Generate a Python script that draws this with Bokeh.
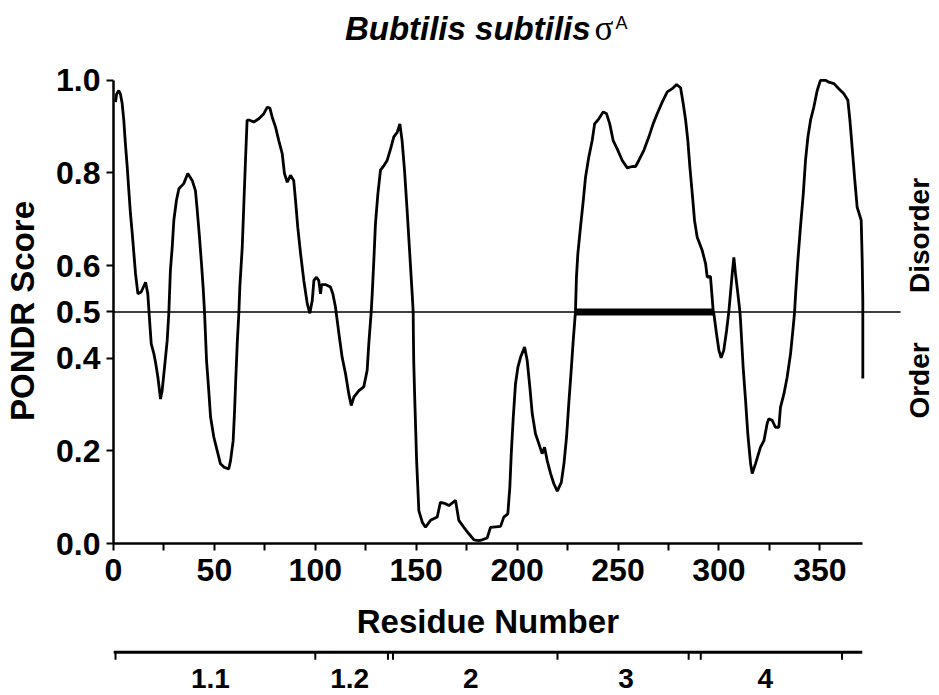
import math
from bokeh.plotting import figure
from bokeh.models import Range1d, FixedTicker
from bokeh.layouts import column
from bokeh.embed import file_html
from bokeh.resources import INLINE
from bokeh.core.properties import value

# ---- data ----
residue = [1, 1.5, 2.6, 3.4, 4.3, 5.1, 5.9, 6.8, 7.6, 8.4, 9.3, 10.1, 10.9, 12.1, 13.7, 15.9, 17.0,
           17.6, 18.0, 18.7, 20.0, 20.8, 22.0, 23.3, 24.1, 25.3, 26.6, 27.4, 28.2, 29.1, 29.9, 31.2,
           32.4, 34.8, 36.8, 39.0, 40.6, 41.5, 42.6, 43.6, 44.4, 45.1, 46.1, 47.2, 48.1, 49.7, 51.4,
           53.0, 54.7, 57.1, 58.0, 59.3, 60.0, 60.5, 61.3, 62.1, 62.6, 63.8, 64.6, 65.4, 66.2, 67.5,
           69.5, 72.0, 74.5, 76.2, 77.5, 78.6, 80.3, 81.9, 83.6, 84.7, 86.1, 87.7, 89.3, 90.2, 91.3,
           92.7, 94.3, 96.0, 97.3, 98.5, 99.3, 100.6, 101.7, 102.6, 103.1, 105.0, 107.5, 108.7, 110.0,
           111.7, 113.3, 115.0, 116.6, 117.8, 119.1, 121.6, 124.0, 125.7, 126.5, 127.7, 128.2, 129.0,
           129.8, 131.0, 132.3, 134.0, 135.6, 137.3, 138.9, 140.6, 141.9, 143.0, 144.2, 145.5, 146.8,
           148.0, 148.5, 148.6, 148.8, 149.3, 150.2, 151.3, 153.0, 154.6, 157.1, 160.4, 162.0, 164.5,
           166.2, 169.5, 171.1, 173.6, 176.1, 178.6, 181.0, 182.7, 185.2, 186.8, 191.8, 193.4, 195.4,
           196.4, 197.1, 198.1, 199.2, 200.4, 201.7, 203.7, 205.0, 206.3, 207.5, 209.1, 210.8, 212.4,
           213.6, 214.9, 216.6, 218.2, 219.9, 221.9, 223.2, 224.5, 225.6, 226.8, 227.8, 228.9, 229.4,
           230.1, 231.4, 232.8, 233.9, 235.5, 237.2, 238.4, 240.5, 242.7, 244.3, 245.9, 247.6, 249.6,
           252.1, 254.6, 257.0, 258.7, 260.3, 262.8, 265.3, 267.4, 269.4, 271.9, 274.4, 276.9, 279.0,
           281.0, 282.3, 283.5, 284.6, 285.6, 286.8, 287.9, 289.2, 291.7, 293.4, 294.2, 295.8, 297.2,
           297.5, 298.8, 300.0, 301.1, 302.4, 303.8, 304.9, 305.7, 306.6, 307.4, 308.2, 309.4, 310.4,
           310.7, 312.0, 313.2, 314.3, 315.7, 316.5, 318.1, 320.6, 322.3, 323.9, 324.7, 326.4, 328.0,
           329.7, 330.5, 332.2, 333.8, 335.5, 336.8, 337.5, 338.0, 339.1, 340.4, 341.8, 342.9, 344.1,
           345.4, 347.0, 348.7, 350.3, 352.8, 354.5, 357.0, 359.4, 361.9, 363.9, 364.9, 366.0, 367.2,
           368.5, 370.5, 371.0, 371.3, 371.3]
pondr_score = [0.953, 0.970, 0.978, 0.971, 0.950, 0.914, 0.863, 0.813, 0.762, 0.712, 0.669, 0.626, 0.583,
               0.539, 0.543, 0.564, 0.539, 0.500, 0.474, 0.431, 0.410, 0.392, 0.359, 0.312, 0.330, 0.381,
               0.438, 0.496, 0.590, 0.640, 0.698, 0.741, 0.766, 0.777, 0.799, 0.784, 0.762, 0.719, 0.662,
               0.604, 0.554, 0.500, 0.395, 0.330, 0.273, 0.230, 0.200, 0.172, 0.165, 0.161, 0.179, 0.222,
               0.287, 0.345, 0.431, 0.496, 0.554, 0.640, 0.734, 0.827, 0.914, 0.914, 0.910, 0.917, 0.928,
               0.942, 0.940, 0.921, 0.899, 0.870, 0.842, 0.799, 0.780, 0.795, 0.784, 0.741, 0.683, 0.626,
               0.568, 0.518, 0.497, 0.525, 0.568, 0.575, 0.568, 0.539, 0.559, 0.559, 0.554, 0.539, 0.510,
               0.453, 0.402, 0.366, 0.323, 0.298, 0.316, 0.330, 0.338, 0.374, 0.431, 0.500, 0.539, 0.611,
               0.690, 0.755, 0.806, 0.816, 0.827, 0.852, 0.878, 0.888, 0.906, 0.870, 0.806, 0.719, 0.626,
               0.539, 0.500, 0.450, 0.388, 0.309, 0.179, 0.071, 0.046, 0.035, 0.050, 0.057, 0.089, 0.086,
               0.082, 0.093, 0.050, 0.035, 0.021, 0.008, 0.006, 0.008, 0.012, 0.035, 0.037, 0.057, 0.064,
               0.122, 0.194, 0.273, 0.345, 0.381, 0.402, 0.424, 0.395, 0.338, 0.280, 0.237, 0.215, 0.194,
               0.208, 0.179, 0.151, 0.129, 0.113, 0.132, 0.172, 0.230, 0.302, 0.374, 0.438, 0.500, 0.575,
               0.626, 0.683, 0.741, 0.791, 0.834, 0.870, 0.906, 0.917, 0.932, 0.928, 0.906, 0.870, 0.852,
               0.827, 0.811, 0.814, 0.814, 0.827, 0.849, 0.878, 0.906, 0.928, 0.953, 0.975, 0.982, 0.991,
               0.984, 0.950, 0.914, 0.870, 0.813, 0.755, 0.698, 0.662, 0.633, 0.604, 0.575, 0.577, 0.500,
               0.496, 0.453, 0.417, 0.401, 0.417, 0.460, 0.500, 0.539, 0.583, 0.618, 0.583, 0.539, 0.500,
               0.482, 0.381, 0.309, 0.237, 0.172, 0.151, 0.172, 0.208, 0.222, 0.259, 0.269, 0.266, 0.251,
               0.251, 0.294, 0.323, 0.359, 0.410, 0.467, 0.500, 0.539, 0.611, 0.683, 0.755, 0.827, 0.878,
               0.914, 0.942, 0.978, 1.000, 1.000, 0.996, 0.993, 0.982, 0.971, 0.957, 0.914, 0.856, 0.791,
               0.726, 0.698, 0.611, 0.525, 0.356]

x_ticks = [0, 50, 100, 150, 200, 250, 300, 350]
x_minor_ticks = [25, 75, 125, 175, 225, 275, 325]
y_ticks = [0.0, 0.2, 0.4, 0.5, 0.6, 0.8, 1.0]
y_tick_labels = ["0.0", "0.2", "0.4", "0.5", "0.6", "0.8", "1.0"]
threshold = 0.5
long_disorder_start = [228.9]
long_disorder_end = [297.2]
seq_length = 371
region_boundaries = [1, 100, 136, 138.5, 220, 285, 291, 361]
region_labels = ["1.1", "1.2", "2", "3", "4"]
region_label_pos = [48, 117, 177, 254, 323]
title_main = "Bubtilis subtilis"
title_sigma = "\u03c3"
title_sup = "A"
x_title = "Residue Number"
y_title = "PONDR Score"
side_labels = ["Disorder", "Order"]
side_label_y = [0.665, 0.352]

FONT = "Liberation Sans"
W = 939
LEFT = 113
X_END = 409.3          # frame reaches the right edge so the side labels fit inside it


def bare(fig):
    fig.axis.visible = False
    fig.grid.visible = False
    fig.outline_line_color = None
    fig.background_fill_color = "white"
    fig.border_fill_color = "white"


# ---- title strip ----
pt = figure(width=W, height=60, x_range=Range1d(0, X_END), y_range=Range1d(0, 60),
            output_backend="svg", toolbar_location=None,
            min_border_left=LEFT, min_border_right=0, min_border_top=0, min_border_bottom=0)
bare(pt)
pt.text(x=[236.4], y=[32], text=[title_main], text_font=value(FONT),
        text_font_style="bold italic", text_font_size="33px", text_align="right",
        text_baseline="middle", text_color="black")
pt.text(x=[236.4], y=[32], x_offset=4, text=[title_sigma], text_font=value("Liberation Serif"),
        text_font_size="35px", text_align="left", text_baseline="middle", text_color="black")
pt.text(x=[236.4], y=[37.5], x_offset=25, text=[title_sup], text_font=value(FONT),
        text_font_size="18px", text_align="left", text_baseline="middle", text_color="black")

# ---- main plot ----
p = figure(width=W, height=540, x_range=pt.x_range, y_range=Range1d(0, 1.004),
           output_backend="svg", toolbar_location=None,
           min_border_left=LEFT, min_border_right=0, min_border_top=18, min_border_bottom=57)
p.grid.visible = False
p.outline_line_color = None
p.background_fill_color = "white"
p.border_fill_color = "white"

p.line(residue, pondr_score, line_color="black", line_width=2.8)
p.segment(x0=[0], y0=[threshold], x1=[390], y1=[threshold], line_color="black", line_width=1.5)
p.segment(x0=long_disorder_start, y0=[threshold], x1=long_disorder_end, y1=[threshold],
          line_color="black", line_width=7)

for ax in (p.xaxis[0], p.yaxis[0]):
    ax.axis_line_width = 2.5
    ax.major_tick_line_width = 2
    ax.minor_tick_line_width = 2
    ax.major_tick_in = 0
    ax.major_tick_out = 7
    ax.minor_tick_in = 0
    ax.minor_tick_out = 7
    ax.major_label_text_font = FONT
    ax.major_label_text_font_style = "bold"
    ax.major_label_text_font_size = "32px"
    ax.major_label_text_color = "black"
    ax.axis_label_text_font = FONT
    ax.axis_label_text_font_style = "bold"
    ax.axis_label_text_font_size = "33px"
    ax.axis_label_text_color = "black"

p.xaxis.bounds = (0, seq_length)
p.xaxis.ticker = FixedTicker(ticks=x_ticks, minor_ticks=x_minor_ticks)
p.xaxis.major_label_standoff = 8

p.yaxis.bounds = (0, 1.0)
p.yaxis.ticker = FixedTicker(ticks=y_ticks)
p.yaxis.major_label_overrides = {t: l for t, l in zip(y_ticks, y_tick_labels)}
p.yaxis.axis_label = y_title
p.yaxis.major_label_standoff = 6
p.yaxis.axis_label_standoff = 12

# side labels
p.text(x=[399.4] * len(side_labels), y=side_label_y, text=side_labels, angle=math.pi / 2,
       text_font=value(FONT), text_font_style="bold", text_font_size="28px",
       text_align="center", text_baseline="middle", text_color="black")

# ---- x title + region bar ----
p2 = figure(width=W, height=95, x_range=pt.x_range, y_range=Range1d(0, 95),
            output_backend="svg", toolbar_location=None,
            min_border_left=LEFT, min_border_right=0, min_border_top=0, min_border_bottom=0)
bare(p2)
p2.text(x=[seq_length / 2], y=[74], text=[x_title], text_font=value(FONT),
        text_font_style="bold", text_font_size="33px", text_align="center",
        text_baseline="middle", text_color="black")
bar_y = 43.3
p2.segment(x0=[0], y0=[bar_y], x1=[seq_length], y1=[bar_y], line_color="black", line_width=3)
p2.segment(x0=region_boundaries, y0=[bar_y] * len(region_boundaries),
           x1=region_boundaries, y1=[bar_y - 7.5] * len(region_boundaries),
           line_color="black", line_width=2)
p2.text(x=region_label_pos, y=[17] * len(region_label_pos), text=region_labels,
        text_font=value(FONT), text_font_style="bold", text_font_size="28px",
        text_align="center", text_baseline="middle", text_color="black")

layout = column(pt, p, p2, spacing=0)
open("out.html", "w").write(file_html(layout, INLINE))
